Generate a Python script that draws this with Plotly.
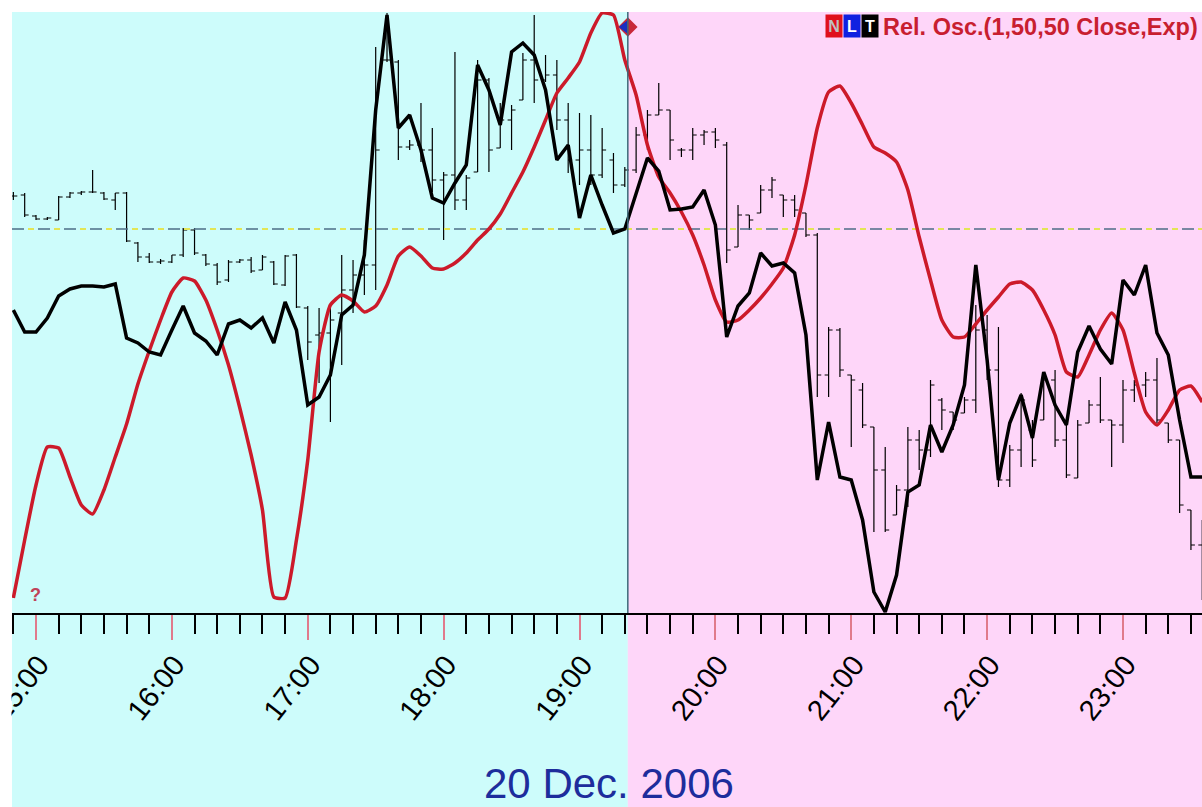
import pandas as pd
import plotly.graph_objects as go

# ---------------- data ----------------
bar_times = pd.date_range("2006-12-20 14:50", periods=106, freq="5min")

bar_open = [417, 418, 397, 394, 393, 416, 420, 421, 420, 413, 420, 370, 356, 351, 351, 358, 383, 358, 348, 333,
            351, 353, 343, 351, 328, 358, 305, 278, 280, 300, 323, 338, 348, 553, 551, 466, 468, 463, 433, 438,
            413, 441, 533, 465, 493, 513, 553, 533, 538, 493, 453, 463, 438, 453, 428, 443, 478, 498, 503, 463,
            463, 478, 481, 468, 366, 398, 400, 423, 418, 413, 400, 378, 238, 283, 238, 223, 186, 143, 98, 123,
            173, 163, 213, 201, 200, 213, 283, 243, 133, 163, 183, 193, 233, 173, 135, 190, 208, 193, 188, 223,
            228, 233, 190, 173, 103, 68]
bar_high = [421, 420, 398, 396, 417, 421, 422, 443, 421, 420, 421, 371, 360, 354, 358, 385, 385, 359, 350, 353,
            354, 356, 358, 352, 358, 359, 307, 305, 305, 358, 353, 373, 566, 600, 553, 473, 510, 485, 441, 561,
            438, 553, 535, 510, 508, 560, 598, 558, 553, 510, 500, 498, 485, 460, 446, 486, 503, 530, 503, 465,
            485, 483, 485, 471, 408, 398, 428, 436, 418, 418, 400, 380, 286, 285, 238, 230, 186, 166, 128, 186,
            183, 233, 215, 201, 216, 308, 298, 286, 168, 220, 193, 241, 243, 190, 193, 213, 236, 193, 233, 233,
            241, 255, 190, 173, 103, 93]
bar_low = [413, 396, 393, 393, 393, 415, 418, 420, 413, 403, 371, 351, 350, 349, 350, 356, 358, 347, 328, 331,
           350, 340, 343, 328, 327, 305, 253, 230, 191, 248, 300, 318, 323, 551, 453, 463, 451, 421, 373, 403,
           403, 441, 441, 465, 463, 513, 510, 531, 483, 440, 428, 428, 435, 420, 426, 440, 463, 498, 453, 456,
           453, 468, 465, 350, 366, 383, 400, 415, 396, 396, 376, 216, 216, 236, 166, 185, 81, 81, 98, 106,
           143, 156, 183, 183, 200, 200, 233, 126, 126, 146, 146, 193, 166, 135, 135, 190, 190, 146, 170, 211,
           216, 190, 170, 100, 63, 13]
bar_close = [417, 398, 394, 395, 416, 420, 421, 421, 414, 420, 372, 356, 351, 352, 358, 383, 360, 349, 331, 351,
             353, 342, 356, 329, 357, 306, 271, 280, 293, 323, 338, 348, 463, 553, 466, 468, 463, 433, 438, 413,
             435, 533, 463, 493, 503, 553, 533, 538, 493, 453, 463, 438, 463, 428, 443, 478, 498, 503, 473, 463,
             478, 481, 473, 363, 398, 393, 423, 433, 413, 403, 378, 238, 283, 243, 233, 188, 143, 83, 123, 173,
             163, 228, 203, 193, 213, 283, 243, 133, 163, 213, 153, 233, 173, 138, 188, 208, 193, 188, 223, 228,
             233, 193, 173, 108, 68, 23]

osc_black = [303, 281, 281, 295, 317, 324, 327, 327, 326, 329, 275, 270, 261, 258, 283, 307, 280, 272, 258, 289,
             293, 285, 295, 270, 311, 283, 208, 216, 238, 298, 308, 358, 503, 598, 485, 498, 463, 415, 410, 430,
             448, 548, 523, 488, 561, 570, 558, 523, 453, 468, 395, 438, 408, 380, 384, 419, 455, 442, 403, 404,
             406, 423, 388, 276, 307, 320, 360, 347, 350, 340, 278, 133, 191, 136, 133, 93, 21, 1, 38, 121,
             128, 188, 161, 188, 228, 348, 253, 133, 190, 218, 175, 241, 208, 188, 261, 287, 264, 249, 333, 318,
             348, 280, 258, 193, 136, 136]

osc_red = [15, 73, 128, 166, 165, 136, 108, 99, 123, 156, 189, 229, 262, 293, 321, 335, 332, 313, 283, 248,
           205, 158, 103, 16, 15, 73, 153, 261, 308, 318, 312, 301, 307, 328, 357, 366, 357, 345, 344, 350,
           360, 373, 384, 399, 420, 441, 466, 493, 520, 535, 551, 580, 600, 598, 553, 518, 468, 436, 420, 401,
           378, 348, 313, 291, 293, 303, 315, 329, 345, 378, 428, 485, 521, 527, 510, 488, 466, 460, 451, 423,
           376, 333, 293, 276, 276, 289, 303, 316, 329, 331, 323, 303, 278, 241, 236, 258, 283, 300, 283, 240,
           201, 188, 203, 223, 227, 211]

ref_level = 384
session_split = pd.Timestamp("2006-12-20 19:21:20")
x_start = pd.Timestamp("2006-12-20 14:49:24")
x_end = pd.Timestamp("2006-12-20 23:34:53")
y_top = 601
marker_level = 586
date_label = "20 Dec. 2006"
legend_label = "Rel. Osc.(1,50,50 Close,Exp)"

# ---------------- figure ----------------
W, H = 1202, 807
ML, MR, MT, MB = 12, 0, 12, 194
plot_h = H - MT - MB
plot_w = W - ML - MR
split_frac = (session_split - x_start) / (x_end - x_start)

fig = go.Figure()

fig.add_trace(go.Ohlc(
    x=bar_times, open=bar_open, high=bar_high, low=bar_low, close=bar_close,
    increasing=dict(line=dict(color="black", width=1.2)),
    decreasing=dict(line=dict(color="black", width=1.2)),
    tickwidth=0.35, hoverinfo="skip", showlegend=False))

# reference level: dark dashes with yellow dashes in the gaps
fig.add_trace(go.Scatter(x=[x_start, x_end], y=[ref_level, ref_level], mode="lines",
                         line=dict(color="#4d6e86", width=1.7, dash="12px,14px"),
                         hoverinfo="skip", showlegend=False))
fig.add_trace(go.Scatter(x=[x_start, x_end], y=[ref_level, ref_level], mode="lines",
                         line=dict(color="#e3e655", width=1.9, dash="0px,16px,6px,4px"),
                         hoverinfo="skip", showlegend=False))

fig.add_trace(go.Scatter(x=bar_times, y=osc_red, mode="lines",
                         line=dict(color="#cc1a2a", width=3.5, shape="spline", smoothing=0.5),
                         hoverinfo="skip", showlegend=False))
fig.add_trace(go.Scatter(x=bar_times, y=osc_black, mode="lines",
                         line=dict(color="black", width=3.5),
                         hoverinfo="skip", showlegend=False))

# split marker (diamond: blue left half, red right half)
fig.add_trace(go.Scatter(x=[session_split], y=[marker_level], mode="markers",
                         marker=dict(symbol="diamond", size=15, color="#c8283a", line=dict(width=0)),
                         cliponaxis=False, hoverinfo="skip", showlegend=False))
fig.add_trace(go.Scatter(x=[session_split - pd.Timedelta(seconds=95)], y=[marker_level], mode="markers",
                         marker=dict(symbol="triangle-left", size=11, color="#1a2fc0", line=dict(width=0)),
                         cliponaxis=False, hoverinfo="skip", showlegend=False))

shapes = [
    dict(type="rect", xref="paper", yref="paper", x0=0, x1=split_frac, y0=-MB / plot_h, y1=1,
         fillcolor="#cdfcfb", line=dict(width=0), layer="below"),
    dict(type="rect", xref="paper", yref="paper", x0=split_frac, x1=1, y0=-MB / plot_h, y1=1,
         fillcolor="#fed6f9", line=dict(width=0), layer="below"),
    dict(type="line", xref="x", yref="paper", x0=session_split, x1=session_split, y0=0, y1=1,
         line=dict(color="#3c6878", width=1.5), layer="above"),
    # white left frame strip (the first hour label is cut by it, as in the source)
    dict(type="rect", xref="paper", yref="paper", x0=-ML / plot_w, x1=-0.5 / plot_w,
         y0=-MB / plot_h, y1=1 + MT / plot_h, fillcolor="white", line=dict(width=0), layer="above"),
]

annotations = [
    dict(text=date_label, xref="paper", yref="paper", x=(609 - ML) / plot_w, y=-(783 - MT - plot_h) / plot_h,
         xanchor="center", yanchor="middle", showarrow=False,
         font=dict(family="Liberation Sans, Arial", size=42, color="#1d2d9c")),
    dict(text="<b>?</b>", xref="paper", yref="paper", x=(35 - ML) / plot_w, y=(613 - 595) / plot_h,
         xanchor="center", yanchor="middle", showarrow=False,
         font=dict(family="Liberation Sans, Arial", size=18, color="#c04258")),
]
# legend chip N L T + label
chips = [("N", "#e0101c", "#bfbfbf"), ("L", "#1020e0", "#ffffff"), ("T", "#000000", "#ffffff")]
for k, (ch, bg, fg) in enumerate(chips):
    annotations.append(dict(text="<b>%s</b>" % ch, xref="paper", yref="paper",
                            x=(833.5 + 18 * k - ML) / plot_w, y=(613 - 26) / plot_h,
                            xanchor="center", yanchor="middle", showarrow=False, bgcolor=bg,
                            width=16, height=22, borderpad=0,
                            font=dict(family="Liberation Sans, Arial", size=16, color=fg)))
annotations.append(dict(text="<b>%s</b>" % legend_label, xref="paper", yref="paper",
                        x=(1200 - ML) / plot_w, y=(613 - 27) / plot_h, xanchor="right", yanchor="middle",
                        showarrow=False,
                        font=dict(family="Liberation Sans, Arial", size=23.5, color="#c81e30")))

fig.update_layout(
    width=W, height=H, margin=dict(l=ML, r=MR, t=MT, b=MB, autoexpand=False),
    paper_bgcolor="white", plot_bgcolor="rgba(0,0,0,0)",
    showlegend=False, hovermode=False,
    shapes=shapes, annotations=annotations,
    xaxis=dict(type="date", range=[x_start, x_end], rangeslider=dict(visible=False),
               automargin=False,
               showgrid=False, zeroline=False, showline=True, linecolor="black", linewidth=2,
               tick0="2006-12-20 00:00", dtick=3600000, tickformat="%H:%M",
               ticks="outside", ticklen=25, tickwidth=2, tickcolor="#e07a8c",
               ticklabeloverflow="allow", ticklabelshift=3, ticklabelstandoff=-4,
               tickangle=-52, tickfont=dict(family="Liberation Sans, Arial", size=29, color="black"),
               minor=dict(dtick=600000, ticks="outside", ticklen=19, tickwidth=2,
                          tickcolor="black", showgrid=False)),
    yaxis=dict(range=[0, y_top], visible=False, showgrid=False, zeroline=False, automargin=False),
)

fig.write_html("out.html", config={"displayModeBar": False},
               post_script="document.body.style.margin='0';")
